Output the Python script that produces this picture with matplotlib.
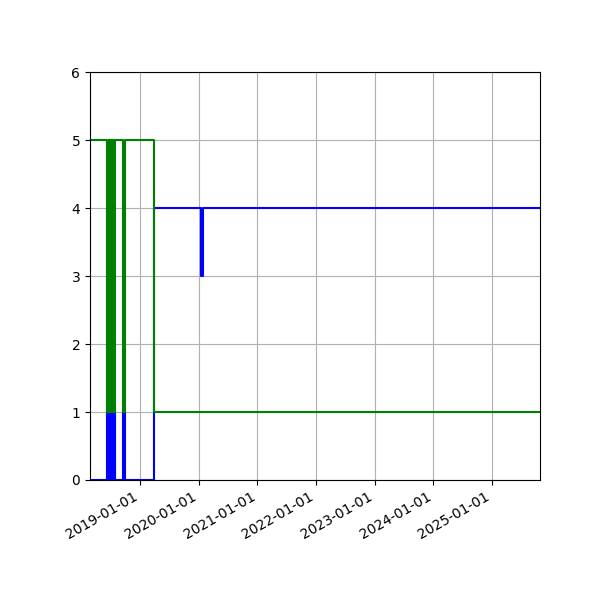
import matplotlib
matplotlib.use('Agg')
import matplotlib.pyplot as plt
import matplotlib.dates as mdates
import pandas as pd

# dates where a value changes (step plot, value holds until next date)
datas = ['2018-02-24', '2018-06-07', '2018-06-15', '2018-06-20', '2018-06-24',
         '2018-06-28', '2018-07-02', '2018-07-06', '2018-07-10', '2018-07-14',
         '2018-07-18', '2018-07-22', '2018-07-26', '2018-07-29', '2018-08-01',
         '2018-09-20', '2018-09-27', '2019-03-28', '2020-01-18', '2020-01-25',
         '2025-10-25']
azul = [0, 4, 0, 1, 0, 1, 0, 1, 0, 1, 0, 1, 0, 1, 0, 1, 0, 4, 3, 4, 4]
verde = [5, 1, 1, 5, 1, 5, 1, 5, 1, 5, 1, 5, 1, 5, 5, 1, 5, 1, 1, 1, 1]

datas = pd.to_datetime(datas)

fig = plt.figure(figsize=(6, 6), dpi=100)
ax = fig.add_subplot(111)
ax.plot(datas, azul, color='blue', drawstyle='steps-post')
ax.plot(datas, verde, color='green', drawstyle='steps-post')
ax.set_ylim(0, 6)
ax.set_xlim(datas[0], datas[-1])
ax.xaxis.set_major_locator(mdates.YearLocator())
ax.xaxis.set_major_formatter(mdates.DateFormatter('%Y-%m-%d'))
ax.grid(True)
fig.autofmt_xdate()
fig.subplots_adjust(left=0.15, right=0.9, top=0.88, bottom=0.2)
fig.savefig('out.png', dpi=100)
